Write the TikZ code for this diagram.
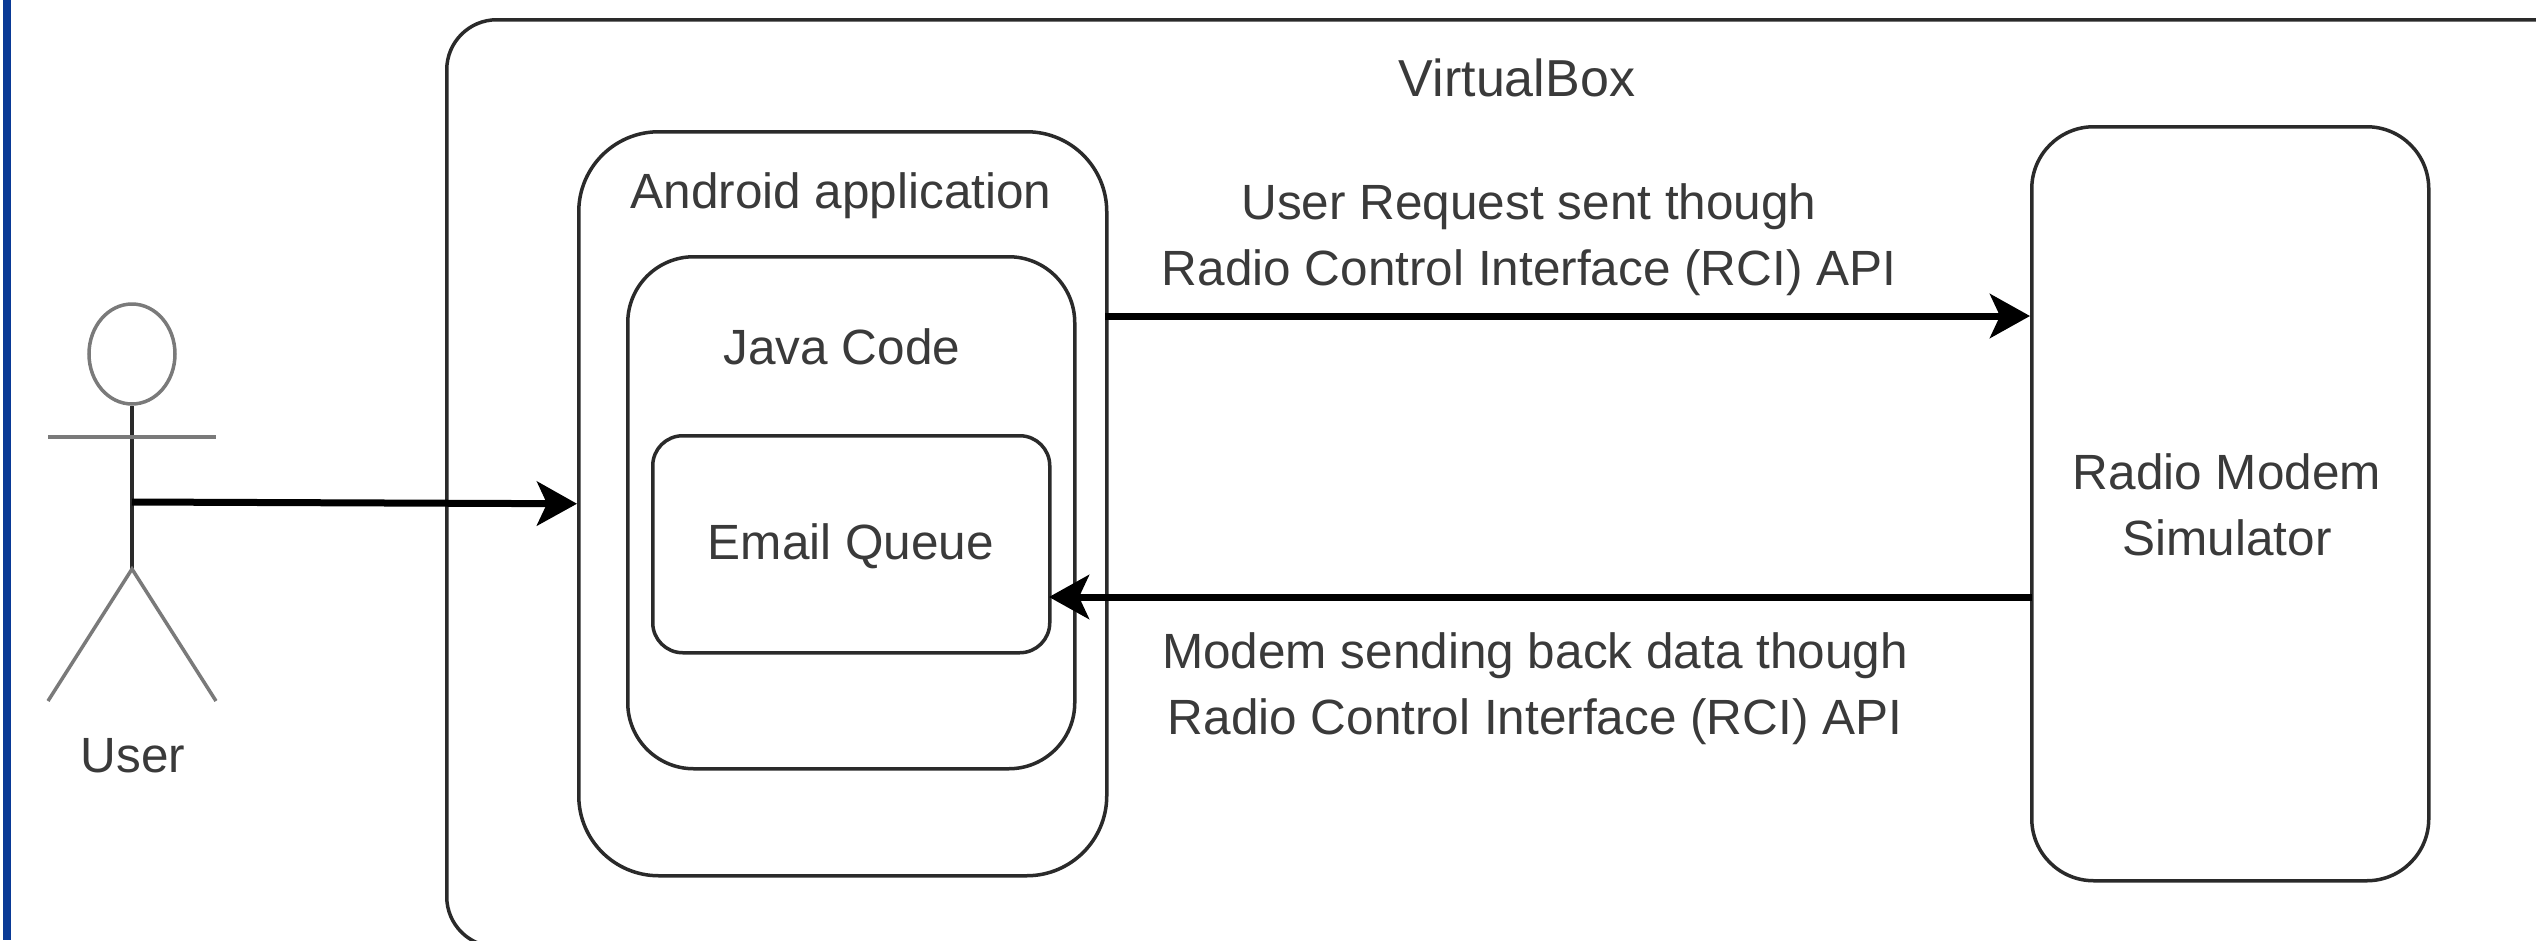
\documentclass[tikz,border=0pt]{standalone}
\usepackage{fontspec}
\setmainfont{Liberation Sans}
\usetikzlibrary{arrows.meta,shapes.geometric}
\definecolor{barblue}{HTML}{0A3A96}
\definecolor{inktext}{HTML}{3A3A3A}
\definecolor{inkline}{HTML}{2A2A2A}
\definecolor{armgrey}{HTML}{7A7A7A}
\tikzset{
  box/.style={draw=inkline,line width=3.5pt,rounded corners=#1,inner sep=0pt,anchor=north west},
  label/.style={text=inktext,align=center,inner sep=0pt,font=\fontsize{49.5}{66}\selectfont},
  flow/.style={line width=7pt,black,-{Stealth[length=40pt,width=44pt,inset=10pt]}},
  limb/.style={line width=3.5pt,inkline}
}
\begin{document}
\begin{tikzpicture}[x=1pt,y=-1pt]
\useasboundingbox (0,0) rectangle (2536,940);
\clip (0,0) rectangle (2536,940);
\fill[white] (0,0) rectangle (2536,940);
\fill[barblue] (3,0) rectangle (11,940);
% boxes
\node (vbox) [box=50pt,minimum width=2200pt,minimum height=927pt] at (445,18) {};
\node (android) [box=80pt,minimum width=528pt,minimum height=744pt] at (577,130) {};
\node (java) [box=66pt,minimum width=447pt,minimum height=512pt] at (626,255) {};
\node (email) [box=30pt,minimum width=397pt,minimum height=217pt] at (651,434) {};
\node (modem) [box=62pt,minimum width=397pt,minimum height=754pt] at (2030,125) {};
% actor
\node (head) [draw=armgrey,line width=3.5pt,ellipse,inner sep=0pt,minimum width=86pt,minimum height=100pt] at (132,354) {};
\coordinate (armL) at (48,437);
\coordinate (armR) at (216,437);
\coordinate (hip) at (132,569);
\coordinate (footL) at (48,701);
\coordinate (footR) at (216,701);
\coordinate (waist) at (132,502);
\draw [limb] (head.south) -- (hip);
\draw [line width=3.5pt,armgrey] (armL) -- (armR);
\draw [limb,armgrey] (footL) -- (hip) -- (footR);
% labels
\node (user) [label] at (133,756) {User};
\node (vboxname) [label,font=\fontsize{52}{66}\selectfont] at (1517,78) {VirtualBox};
\node (androidname) [label] at (841,196) {Android application};
\node (javaname) [label] at (842,347) {Java Code};
\node (emailname) [label] at (851,546) {Email Queue};
\node (modemname) [label] at (2227,505) {Radio Modem\\Simulator};
\node (reqtext) [label] at (1529,240) {User Request sent though\\Radio Control Interface (RCI) API};
\node (backtext) [label] at (1535,689) {Modem sending back data though\\Radio Control Interface (RCI) API};
% flows
\coordinate (reqstart) at (1105,316);
\coordinate (reqend) at (2030,316);
\coordinate (backstart) at (2032,597);
\coordinate (backend) at (1049,597);
\draw [flow] (waist) -- (android.west);
\draw [flow] (reqstart) -- (reqend);
\draw [flow] (backstart) -- (backend);
\end{tikzpicture}
\end{document}
